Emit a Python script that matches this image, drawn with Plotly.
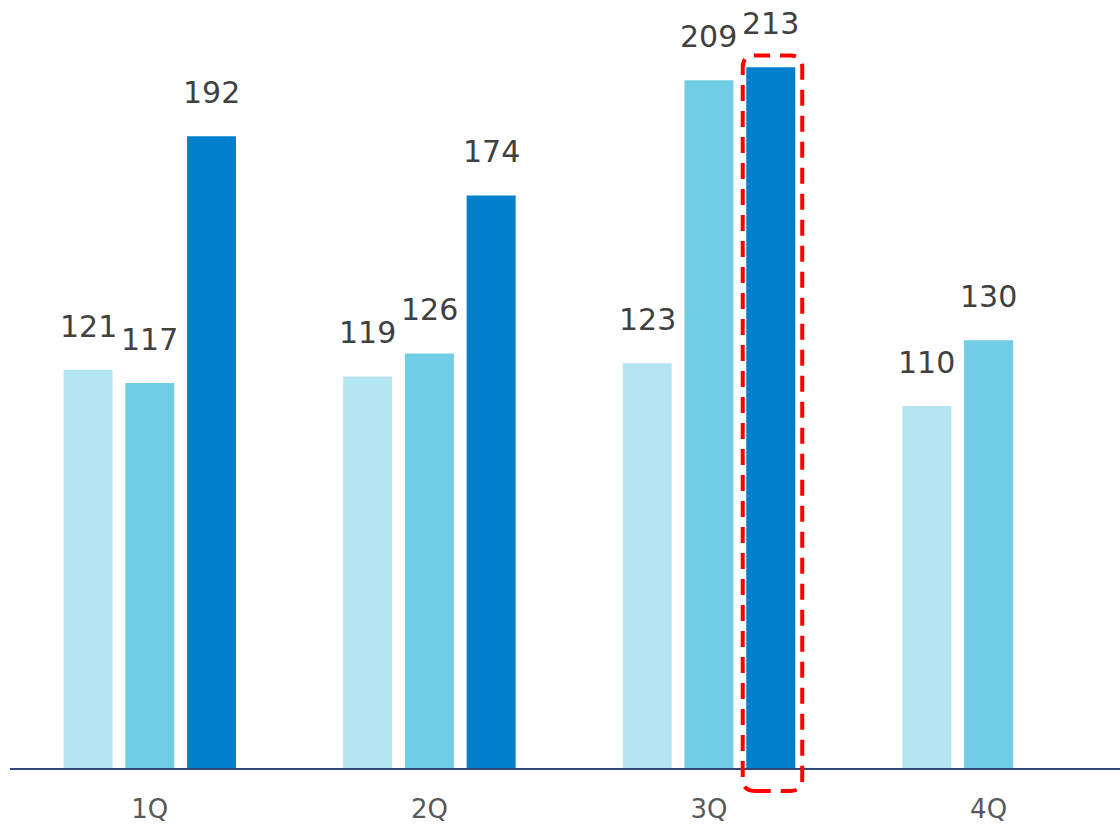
import plotly.graph_objects as go

categories = ["1Q", "2Q", "3Q", "4Q"]
series_a = [121, 119, 123, 110]
series_b = [117, 126, 209, 130]
series_c = [192, 174, 213, None]
colors = ["#B5E4F3", "#71CDE5", "#0080CC"]

BARGAP = 0.3375
BARGROUPGAP = 0.2065
X_RANGE = [-0.5, 3.47]
label_font = dict(family="DejaVu Sans", size=30, color="#404040")

fig = go.Figure()
all_series = [series_a, series_b, series_c]
for vals, col in zip(all_series, colors):
    fig.add_trace(go.Bar(x=categories, y=vals, marker=dict(color=col, line=dict(width=0)),
                         hoverinfo="skip", showlegend=False))

n = len(all_series)
slot = (1 - BARGAP) / n
for k, vals in enumerate(all_series):
    for i, v in enumerate(vals):
        if v is None:
            continue
        fig.add_annotation(x=i + (k - (n - 1) / 2) * slot, y=v, xref="x", yref="y",
                           text=str(v), showarrow=False, yanchor="bottom",
                           yshift=24, font=label_font)

# highlight box around 3Q latest bar (pixel-sized rounded dashed rectangle)
xa = 2 + (2 - (n - 1) / 2) * slot
xa_dom = (xa - X_RANGE[0]) / (X_RANGE[1] - X_RANGE[0])
L, R, B, T, r = -28, 31.5, -23, 712.5, 12
path = (f"M{L+r},{B} L{R-r},{B} Q{R},{B} {R},{B+r} L{R},{T-r} Q{R},{T} {R-r},{T} "
        f"L{L+r},{T} Q{L},{T} {L},{T-r} L{L},{B+r} Q{L},{B} {L+r},{B} Z")
fig.add_shape(type="path", xref="x domain", yref="y domain", xsizemode="pixel", ysizemode="pixel",
              xanchor=xa_dom, yanchor=0, path=path,
              line=dict(color="#FF0000", width=4, dash="16px,10px"))

fig.update_layout(
    width=1120, height=829,
    margin=dict(l=10, r=0, t=0, b=61),
    paper_bgcolor="white", plot_bgcolor="white",
    bargap=BARGAP, bargroupgap=BARGROUPGAP, barmode="group",
    xaxis=dict(range=X_RANGE, showline=True, linecolor="#2F4A7A", linewidth=2,
               showgrid=False, zeroline=False, ticks="", ticklabelstandoff=17,
               tickfont=dict(family="DejaVu Sans", size=26, color="#595959")),
    yaxis=dict(range=[0, 233.4], visible=False, showgrid=False, zeroline=False),
)

fig.write_html("out.html")
